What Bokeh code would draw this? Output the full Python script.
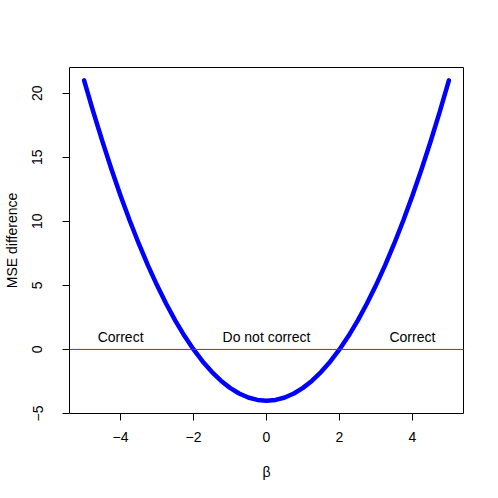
import math
from bokeh.plotting import figure
from bokeh.models import Range1d, FixedTicker, Span, ColumnDataSource
from bokeh.core.properties import value
from bokeh.embed import file_html
from bokeh.resources import INLINE

# Curve
beta = [-5.0, -4.75, -4.5, -4.25, -4.0, -3.75, -3.5, -3.25, -3.0, -2.75, -2.5,
        -2.25, -2.0, -1.75, -1.5, -1.25, -1.0, -0.75, -0.5, -0.25, 0.0,
        0.25, 0.5, 0.75, 1.0, 1.25, 1.5, 1.75, 2.0, 2.25, 2.5, 2.75, 3.0,
        3.25, 3.5, 3.75, 4.0, 4.25, 4.5, 4.75, 5.0]
mse_diff = [21.0, 18.5625, 16.25, 14.0625, 12.0, 10.0625, 8.25, 6.5625, 5.0, 3.5625, 2.25,
            1.0625, 0.0, -0.9375, -1.75, -2.4375, -3.0, -3.4375, -3.75, -3.9375, -4.0,
            -3.9375, -3.75, -3.4375, -3.0, -2.4375, -1.75, -0.9375, 0.0, 1.0625, 2.25,
            3.5625, 5.0, 6.5625, 8.25, 10.0625, 12.0, 14.0625, 16.25, 18.5625, 21.0]

x_ticks = [-4, -2, 0, 2, 4]
x_tick_labels = ["\u22124", "\u22122", "0", "2", "4"]
y_ticks = [-5, 0, 5, 10, 15, 20]
y_tick_labels = ["\u22125", "0", "5", "10", "15", "20"]

label_x = [-4, 0, 4]
label_y = [1, 1, 1]
label_text = ["Correct", "Do not correct", "Correct"]

FONT = "Liberation Sans"
FS = "14px"

p = figure(width=482, height=482, output_backend="svg", toolbar_location=None,
           x_range=Range1d(-5.4, 5.4), y_range=Range1d(-5, 22),
           min_border_left=68, min_border_right=19, min_border_top=67, min_border_bottom=69)
p.background_fill_color = "white"
p.border_fill_color = "white"
p.outline_line_color = "black"
p.outline_line_width = 1
p.xgrid.visible = False
p.ygrid.visible = False

p.line(beta, mse_diff, line_color="#0000FF", line_width=4.5, line_cap="round", line_join="round")
p.add_layout(Span(location=0, dimension="width", line_color="#FF0000", line_width=1))

src = ColumnDataSource(dict(x=label_x, y=label_y, t=label_text))
p.text(x="x", y="y", text="t", source=src, text_align="center", text_baseline="middle",
       text_font=value(FONT), text_font_size=FS, text_color="black")

for ax, ticks, labels in ((p.xaxis[0], x_ticks, x_tick_labels), (p.yaxis[0], y_ticks, y_tick_labels)):
    ax.ticker = FixedTicker(ticks=ticks)
    ax.major_label_overrides = {t: l for t, l in zip(ticks, labels)}
    ax.minor_tick_line_color = None
    ax.major_tick_in = 0
    ax.major_tick_out = 7
    ax.major_tick_line_color = "black"
    ax.axis_line_color = None
    ax.major_label_text_font = FONT
    ax.major_label_text_font_size = FS
    ax.major_label_text_color = "black"
    ax.axis_label_text_font = FONT
    ax.axis_label_text_font_size = FS
    ax.axis_label_text_font_style = "normal"
    ax.axis_label_text_color = "black"

p.xaxis.axis_label = "\u03b2"
p.xaxis.major_label_standoff = 11
p.xaxis.axis_label_standoff = 19
p.yaxis.axis_label = "MSE difference"
p.yaxis.major_label_orientation = "vertical"
p.yaxis.major_label_standoff = 20
p.yaxis.axis_label_standoff = 10

open("out.html", "w").write(file_html(p, INLINE))
